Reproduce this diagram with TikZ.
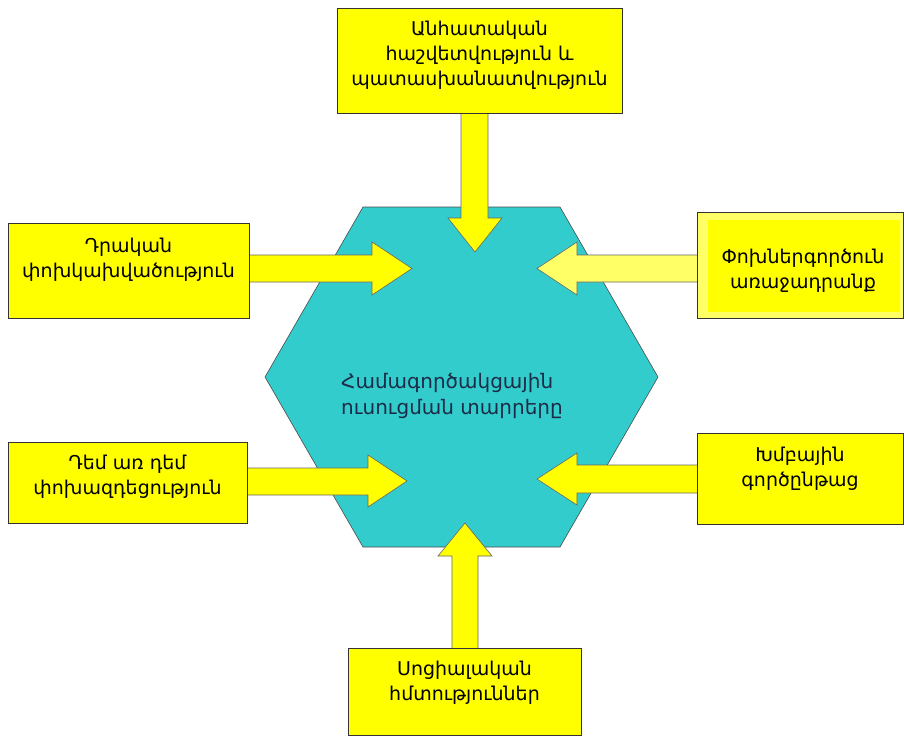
\documentclass[tikz,border=0pt]{standalone}
\usepackage{fontspec}
\setmainfont{DejaVu Sans}
\begin{document}
\begin{tikzpicture}[x=1pt,y=-1pt,
  box/.style={draw=black!80, line width=0.8pt, fill=boxyellow, inner sep=0pt},
  txt/.style={align=center, font=\fontsize{19}{25}\selectfont, text=black, inner sep=0pt},
  hextxt/.style={align=left, font=\fontsize{20}{26}\selectfont, text=hexink, inner sep=0pt},
  barrow/.style={draw=black!60, line width=0.6pt, fill=boxyellow, line join=miter},
  hexshape/.style={draw=black!70, line width=0.6pt, fill=hexcyan}]
\definecolor{boxyellow}{HTML}{FFFF00}
\definecolor{paleyellow}{HTML}{FFFF66}
\definecolor{hexcyan}{HTML}{33CCCC}
\definecolor{hexink}{HTML}{1C2C48}
\useasboundingbox (0,0) rectangle (904,736);
% hexagon
\draw[hexshape] (363,207)--(560,207)--(658,377)--(560,547)--(363,547)--(265,377)--cycle;
\node[hextxt, anchor=west] (hex) at (341,396) {Համագործակցային\\ուսուցման տարրերը};
% arrows
\draw[barrow] (461,110)--(488,110)--(488,218)--(502,218)--(475,252)--(448,218)--(461,218)--cycle;
\draw[barrow] (246,255)--(372,255)--(372,242)--(412,268.5)--(372,295)--(372,282)--(246,282)--cycle;
\draw[barrow, fill=paleyellow] (700,255)--(577,255)--(577,242)--(537,268.5)--(577,295)--(577,282)--(700,282)--cycle;
\draw[barrow] (244,468)--(368,468)--(368,455)--(407,481)--(368,507)--(368,495)--(244,495)--cycle;
\draw[barrow] (700,465)--(577,465)--(577,453)--(537,479)--(577,505)--(577,493)--(700,493)--cycle;
\draw[barrow] (452,651)--(452,556)--(438,556)--(465,523)--(492,556)--(478,556)--(478,651)--cycle;
% boxes
\node[box, minimum width=285pt, minimum height=105pt] (b1) at (479.5,60.5) {};
\node[txt] (t1) at (479.5,55) {Անհատական\\հաշվետվություն և\\պատասխանատվություն};
\node[box, minimum width=241pt, minimum height=95pt] (b2) at (128.5,270.5) {};
\node[txt] (t2) at (128.5,259.5) {Դրական\\փոխկախվածություն};
\node[box, fill=paleyellow, minimum width=206pt, minimum height=106pt] (b3) at (800,265) {};
\fill[boxyellow] (708,220) rectangle (900,312);
\node[txt] (t3) at (803,271) {Փոխներգործուն\\առաջադրանք};
\node[box, minimum width=239pt, minimum height=81pt] (b4) at (127.5,482.5) {};
\node[txt] (t4) at (127.5,476.5) {Դեմ առ դեմ\\փոխազդեցություն};
\node[box, minimum width=206pt, minimum height=91pt] (b5) at (800,478.5) {};
\node[txt] (t5) at (800,468.5) {Խմբային\\գործընթաց};
\node[box, minimum width=233pt, minimum height=87pt] (b6) at (464.5,691.5) {};
\node[txt] (t6) at (464.5,682.5) {Սոցիալական\\հմտություններ};
\end{tikzpicture}
\end{document}
